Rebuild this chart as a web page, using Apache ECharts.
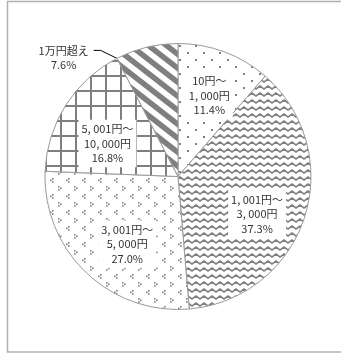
<!DOCTYPE html>
<html>
<head>
<meta charset="utf-8">
<script src="https://cdn.jsdelivr.net/npm/echarts@6/dist/echarts.min.js"></script>
<style>
  html, body { margin: 0; padding: 0; background: #fff; }
  #chart { width: 341px; height: 354px; }
</style>
</head>
<body>
<div id="chart"></div>
<script>
// Price bands (clockwise from 12 o'clock) and their shares in percent
const categories = ['10円～\n1, 000円', '1, 001円～\n3, 000円', '3, 001円～\n5, 000円', '5, 001円～\n10, 000円', '1万円超え'];
const shares = [11.4, 37.3, 27.0, 16.8, 7.6];

const INK = '#7f7f7f';

// Small repeating tiles used as hatch fills for the slices
function tile(w, h, draw) {
  const c = document.createElement('canvas');
  c.width = w; c.height = h;
  const g = c.getContext('2d');
  g.fillStyle = '#fff';
  g.fillRect(0, 0, w, h);
  g.fillStyle = INK;
  g.strokeStyle = INK;
  draw(g, w, h);
  return { image: c, repeat: 'repeat' };
}

const dots = tile(16, 14, g => {
  g.fillRect(3, 3, 2, 2);
  g.fillRect(11, 10, 2, 2);
});

const zigzag = tile(8, 7, g => {
  g.lineWidth = 1.6;
  g.beginPath();
  g.moveTo(-4, 2); g.lineTo(0, 5); g.lineTo(4, 2); g.lineTo(8, 5); g.lineTo(12, 2);
  g.stroke();
});

const chevrons = tile(16, 16, g => {
  const s = 1.6;
  // "<"
  g.fillRect(4, 2, s, s); g.fillRect(2, 3.6, s, s); g.fillRect(4, 5.2, s, s);
  // ">"
  g.fillRect(10, 10, s, s); g.fillRect(12, 11.6, s, s); g.fillRect(10, 13.2, s, s);
});

const grid = tile(15, 15, g => {
  g.fillRect(0, 0, 15, 2);
  g.fillRect(0, 0, 2, 15);
});

const stripes = tile(18, 14, (g, w, h) => {
  g.lineWidth = 5.5;
  for (let k = -2; k <= 2; k++) {
    g.beginPath();
    g.moveTo(-w, -h + h * k);
    g.lineTo(2 * w, 2 * h + h * k);
    g.stroke();
  }
});

const fills = [dots, zigzag, chevrons, grid, stripes];

const center = [178, 176.5];
const R = 133;
const fontFamily = '"Noto Sans CJK JP", "Noto Sans", sans-serif';
const TEXT = '#333';

const pctText = p => p.name + '\n' + p.value.toFixed(1) + '%';

// Nudges for the in-slice labels, away from the exact mid-ring point
const labelOffsets = [[0, 3], [-6, 10], [11, 3], [5, 15], [0, 0]];

const total = shares.reduce((a, b) => a + b, 0);
// Edge point where the last slice starts (its counter-clockwise neighbour boundary)
function lastSliceStartEdge() {
  const before = shares.slice(0, shares.length - 1).reduce((a, b) => a + b, 0);
  const a = (before / total) * Math.PI * 2;
  return [center[0] + R * Math.sin(a), center[1] - R * Math.cos(a)];
}

const baseData = categories.map((name, i) => ({
  name: name,
  value: shares[i],
  itemStyle: { color: fills[i] },
  label: i === 4
    ? { show: true, formatter: p => '{c|' + p.name + '}\n{c|' + p.value.toFixed(1) + '%}' }
    : { show: false },
  labelLine: { show: i === 4 }
}));

// Transparent ring that carries the in-slice labels a bit further out than mid-radius
const labelData = categories.map((name, i) => ({
  name: name,
  value: shares[i],
  label: i === 4 ? { show: false } : { offset: labelOffsets[i] }
}));

const chart = echarts.init(document.getElementById('chart'), null, { renderer: 'canvas' });
chart.setOption({
  animation: false,
  graphic: [{
    type: 'rect',
    shape: { x: 7.5, y: 1.5, width: 345, height: 350.5 },
    style: { fill: 'none', stroke: '#b0b0b0', lineWidth: 1.5 },
    z: 0
  }],
  series: [
    {
      type: 'pie',
      center: center,
      radius: R,
      startAngle: 90,
      clockwise: true,
      avoidLabelOverlap: false,
      itemStyle: { borderColor: '#999', borderWidth: 1 },
      emphasis: { disabled: true },
      label: {
        position: 'outside',
        alignTo: 'none',
        color: TEXT,
        fontSize: 11,
        lineHeight: 14,
        fontFamily: fontFamily,
        rich: {
          c: { width: 52, align: 'center', color: TEXT, fontSize: 11, lineHeight: 14, fontFamily: fontFamily }
        }
      },
      labelLine: {
        length: 4,
        length2: 16,
        lineStyle: { color: '#000', width: 1 }
      },
      labelLayout: p => {
        if (p.dataIndex !== 4) return {};
        const dx = -35, dy = 14;
        const r = p.labelRect;
        const endX = r.x + r.width + dx + 4;
        const endY = r.y + dy + 7;
        const edge = lastSliceStartEdge();
        return {
          dx: dx,
          dy: dy,
          labelLinePoints: [edge, [endX + 7, endY], [endX, endY]]
        };
      },
      data: baseData
    },
    {
      type: 'pie',
      center: center,
      radius: [40, R],
      startAngle: 90,
      clockwise: true,
      silent: true,
      avoidLabelOverlap: false,
      itemStyle: { color: 'rgba(0,0,0,0)' },
      emphasis: { disabled: true },
      label: {
        show: true,
        position: 'inside',
        color: TEXT,
        fontSize: 11,
        lineHeight: 14.5,
        fontFamily: fontFamily,
        align: 'center',
        backgroundColor: '#fff',
        padding: [2, 3],
        formatter: pctText
      },
      labelLine: { show: false },
      data: labelData
    }
  ]
});
</script>
</body>
</html>
